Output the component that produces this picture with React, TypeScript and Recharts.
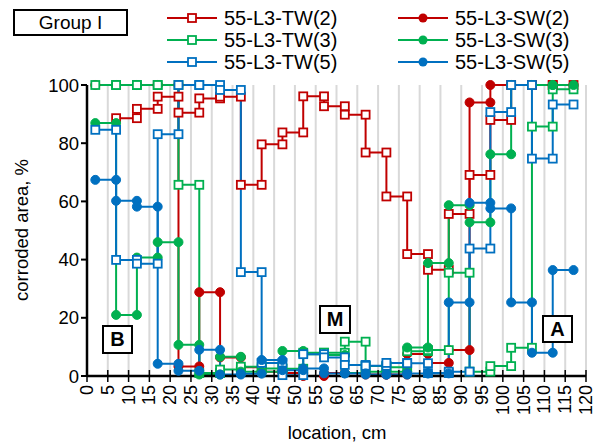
import { LineChart, Line, XAxis, YAxis, CartesianGrid, Legend } from 'recharts'

// measuring positions along the specimen, cm
const POSITIONS = [2, 7, 12, 17, 22, 27, 32, 37, 42, 47, 52, 57, 62, 67, 72, 77, 82, 87, 92, 97, 102, 107, 112, 117]
const X_TICKS = [0, 5, 10, 15, 20, 25, 30, 35, 40, 45, 50, 55, 60, 65, 70, 75, 80, 85, 90, 95, 100, 105, 110, 115, 120]
const Y_TICKS = [0, 20, 40, 60, 80, 100]

// corroded area (%) per 5 cm segment; TW(2) starts at the 2nd position
const TW2 = [88.6, 91.8, 96, 90.5, 95.4, 96, 65.7, 79.6, 83.7, 96.1, 92.7, 89.8, 76.8, 61.7, 41.9, 36.5, 55.7, 69.1, 88, 100, 100, 100]
const SW2 = [100, 100, 100, 100, 3.3, 28.8, 6.4, 3, 1.5, 1, 0, 1, 1, 0.5, 0.5, 7.6, 4.5, 8.9, 94, 100, 100, 100, 100]
const TW3 = [100, 100, 100, 100, 65.7, 1, 2.2, 3.2, 2.6, 2.5, 8, 8, 11.8, 3.4, 3, 8.5, 8.9, 35.5, 1.5, 3.4, 9.7, 85.7, 98.5]
const SW3 = [86.9, 21, 40.7, 46, 10.7, 0.5, 6.6, 1.5, 1.5, 8.6, 7.5, 7.2, 1, 1.5, 1.5, 9.8, 38.8, 58.7, 52.8, 76.2, 100, 100, 100]
const TW5 = [84.6, 39.9, 38.6, 83.1, 100, 100, 98.3, 35.7, 4.5, 0.3, 7.5, 6.4, 3.8, 3.5, 4.5, 4.4, 1, 1.5, 43.8, 90.7, 100, 74.7, 93.3]
const SW5 = [67.4, 60.2, 58.2, 4.2, 1.8, 9, 0.5, 0.8, 5.5, 2, 2.6, 0.9, 0.9, 0.5, 0.5, 0.9, 0.9, 25.3, 59.5, 57.6, 25.3, 8, 36.4]

const RED = '#c00000'
const GREEN = '#00b050'
const BLUE = '#0070c0'
const FONT = '"Liberation Sans", Arial, sans-serif'

// each segment value becomes a flat step between two neighbouring positions
function toSteps(values: number[], start: number) {
  const pts: { x: number; y: number }[] = []
  values.forEach((v, i) => {
    pts.push({ x: POSITIONS[start + i], y: v })
    pts.push({ x: POSITIONS[start + i + 1], y: v })
  })
  return pts
}

const SERIES = [
  { name: '55-L3-TW(2)', data: toSteps(TW2, 1), color: RED, square: true },
  { name: '55-L3-SW(2)', data: toSteps(SW2, 0), color: RED, square: false },
  { name: '55-L3-TW(3)', data: toSteps(TW3, 0), color: GREEN, square: true },
  { name: '55-L3-SW(3)', data: toSteps(SW3, 0), color: GREEN, square: false },
  { name: '55-L3-TW(5)', data: toSteps(TW5, 0), color: BLUE, square: true },
  { name: '55-L3-SW(5)', data: toSteps(SW5, 0), color: BLUE, square: false },
]

const makeDot = (color: string, square: boolean) => (props: any) => {
  const { cx, cy, index } = props
  if (cx == null || cy == null) return <g key={index} />
  return square ? (
    <rect key={index} x={cx - 4} y={cy - 4} width={8} height={8} fill="#fff" stroke={color} strokeWidth={1.8} />
  ) : (
    <circle key={index} cx={cx} cy={cy} r={4.5} fill={color} stroke={color} strokeWidth={1} />
  )
}

const XTick = ({ x, y, payload }: any) => (
  <g>
    <line x1={x} x2={x} y1={y - 6} y2={y + 6} stroke="#000" strokeWidth={1.5} />
    <text
      x={x}
      y={y + 9}
      transform={`rotate(-90 ${x} ${y + 9})`}
      textAnchor="end"
      dominantBaseline="central"
      fontSize={18}
      fontFamily={FONT}
      fill="#000"
    >
      {payload.value}
    </text>
  </g>
)

const LegendBox = () => (
  <div style={{ position: 'relative', width: 603, height: 80, fontFamily: FONT, fontSize: 20, color: '#000' }}>
    {SERIES.map((s, i) => {
      const col = i % 2
      const row = Math.floor(i / 2)
      const left = col === 0 ? 167 : 398
      const top = 18 + row * 22
      return (
        <div key={s.name} style={{ position: 'absolute', left, top: top - 12, height: 24, display: 'flex', alignItems: 'center' }}>
          <svg width={50} height={24}>
            <line x1={0} x2={50} y1={12} y2={12} stroke={s.color} strokeWidth={2} />
            {s.square ? (
              <rect x={21} y={8} width={8} height={8} fill="#fff" stroke={s.color} strokeWidth={1.8} />
            ) : (
              <circle cx={25} cy={12} r={4.5} fill={s.color} />
            )}
          </svg>
          <span style={{ marginLeft: 7, lineHeight: '24px' }}>{s.name}</span>
        </div>
      )
    })}
  </div>
)

const boxStyle = (left: number, top: number, width: number, height: number): React.CSSProperties => ({
  position: 'absolute',
  left,
  top,
  width,
  height,
  border: '2px solid #000',
  boxSizing: 'border-box',
  display: 'flex',
  alignItems: 'center',
  justifyContent: 'center',
  fontFamily: FONT,
  background: '#fff',
})

export default function App() {
  return (
    <div style={{ position: 'fixed', left: 0, top: 0, width: 603, height: 446, background: '#fff' }}>
      <LineChart width={603} height={446} margin={{ top: 85, right: 17, left: 0, bottom: 0 }}>
        <CartesianGrid horizontal={false} stroke="#d9d9d9" strokeWidth={2} />
        <XAxis
          type="number"
          dataKey="x"
          domain={[0, 120]}
          ticks={X_TICKS}
          interval={0}
          height={70}
          tickSize={0}
          tickMargin={0}
          tickLine={false}
          tick={<XTick />}
          axisLine={{ stroke: '#000', strokeWidth: 2.5 }}
        />
        <XAxis xAxisId="top" type="number" domain={[0, 120]} orientation="top" height={0} tick={false} tickLine={false} axisLine={{ stroke: '#000', strokeWidth: 2.5 }} />
        <YAxis
          type="number"
          domain={[0, 100]}
          ticks={Y_TICKS}
          width={87}
          tickSize={6}
          tick={{ fill: '#000', fontSize: 18.5, fontFamily: FONT }}
          tickLine={{ stroke: '#000', strokeWidth: 2 }}
          axisLine={{ stroke: '#000', strokeWidth: 2.5 }}
        />
        <YAxis yAxisId="right" orientation="right" domain={[0, 100]} width={0} tick={false} tickLine={false} axisLine={{ stroke: '#000', strokeWidth: 2.5 }} />
        {SERIES.map((s) => (
          <Line
            key={s.name}
            name={s.name}
            data={s.data}
            dataKey="y"
            type="linear"
            stroke={s.color}
            strokeWidth={2}
            dot={makeDot(s.color, s.square)}
            activeDot={false}
            isAnimationActive={false}
          />
        ))}
        <Legend
          layout="horizontal"
          verticalAlign="middle"
          align="center"
          wrapperStyle={{ left: 0, top: 0, width: 603 }}
          content={() => <LegendBox />}
        />
      </LineChart>

      <div style={{ ...boxStyle(13, 9, 115, 27), fontSize: 19 }}>Group I</div>
      <div style={{ ...boxStyle(102, 325, 31, 29), fontSize: 20, fontWeight: 'bold' }}>B</div>
      <div style={{ ...boxStyle(319, 305, 32, 29), fontSize: 20, fontWeight: 'bold' }}>M</div>
      <div style={{ ...boxStyle(542, 315, 31, 28), fontSize: 20, fontWeight: 'bold' }}>A</div>

      <div
        style={{
          position: 'absolute',
          left: 22,
          top: 230,
          transform: 'translate(-50%, -50%) rotate(-90deg)',
          whiteSpace: 'nowrap',
          fontFamily: FONT,
          fontSize: 18.5,
        }}
      >
        corroded area, %
      </div>
      <div
        style={{
          position: 'absolute',
          left: 337,
          top: 433,
          transform: 'translate(-50%, -50%)',
          whiteSpace: 'nowrap',
          fontFamily: FONT,
          fontSize: 18.5,
        }}
      >
        location, cm
      </div>
    </div>
  )
}
